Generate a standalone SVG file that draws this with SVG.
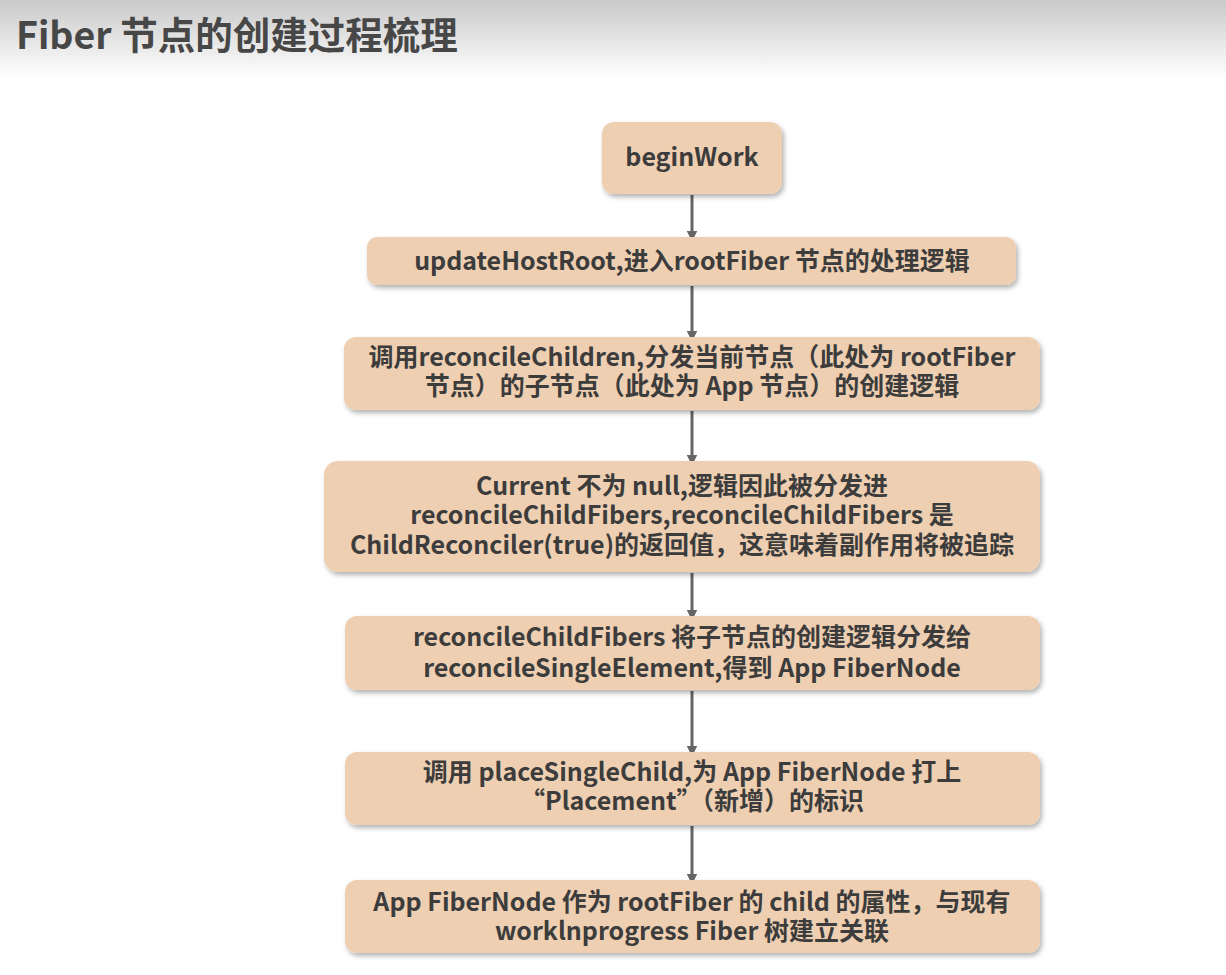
<svg xmlns="http://www.w3.org/2000/svg" width="1226" height="975" viewBox="0 0 1226 975">
<defs>
<linearGradient id="hdr" x1="0" y1="0" x2="0" y2="1">
<stop offset="0" stop-color="#c9c9c9"/>
<stop offset="1" stop-color="#ffffff"/>
</linearGradient>
<filter id="sh" x="-5%" y="-20%" width="110%" height="150%">
<feDropShadow dx="2" dy="3" stdDeviation="2.5" flood-color="#000" flood-opacity="0.3"/>
</filter>
<marker id="ah" markerWidth="11" markerHeight="11" refX="5" refY="5" orient="auto" markerUnits="userSpaceOnUse" viewBox="0 0 10 10">
<path d="M0,0 L10,5 L0,10 z" fill="#666"/>
</marker>
</defs>
<style>
.box{fill:#eecfb2;filter:url(#sh)}
.t{font-family:"Noto Sans CJK SC","Noto Sans",sans-serif;font-weight:bold;fill:#3c3c3c;text-anchor:middle;font-size:25px}
.c{stroke:#666;stroke-width:3;fill:none;marker-end:url(#ah)}
</style>
<rect x="0" y="0" width="1226" height="78" fill="url(#hdr)"/>
<text x="16" y="49" style="font-family:'Noto Sans CJK SC','Noto Sans',sans-serif;font-weight:bold;font-size:37.5px;fill:#474747">Fiber 节点的创建过程梳理</text>

<g id="connectors">
<line class="c" x1="692" y1="195" x2="692" y2="236"/>
<line class="c" x1="692" y1="286" x2="692" y2="336"/>
<line class="c" x1="692" y1="411" x2="692" y2="460"/>
<line class="c" x1="692" y1="573" x2="692" y2="615"/>
<line class="c" x1="692" y1="691" x2="692" y2="751"/>
<line class="c" x1="692" y1="826" x2="692" y2="879"/>
</g>

<g id="n1">
<rect class="box" x="602" y="122" width="180" height="72" rx="12"/>
<text class="t" x="692" y="166">beginWork</text>
</g>
<g id="n2">
<rect class="box" x="367" y="237" width="649" height="48" rx="10"/>
<text class="t" x="692" y="270">updateHostRoot,进入rootFiber 节点的处理逻辑</text>
</g>
<g id="n3">
<rect class="box" x="344" y="337" width="696" height="73" rx="12"/>
<text class="t"><tspan x="692" y="366">调用reconcileChildren,分发当前节点（此处为 rootFiber</tspan><tspan x="692" y="395">节点）的子节点（此处为 App 节点）的创建逻辑</tspan></text>
</g>
<g id="n4">
<rect class="box" x="324" y="461" width="716" height="111" rx="14"/>
<text class="t"><tspan x="682" y="495">Current 不为 null,逻辑因此被分发进</tspan><tspan x="682" y="524">reconcileChildFibers,reconcileChildFibers 是</tspan><tspan x="682" y="554">ChildReconciler(true)的返回值，这意味着副作用将被追踪</tspan></text>
</g>
<g id="n5">
<rect class="box" x="345" y="616" width="695" height="74" rx="12"/>
<text class="t"><tspan x="692" y="646">reconcileChildFibers 将子节点的创建逻辑分发给</tspan><tspan x="692" y="677">reconcileSingleElement,得到 App FiberNode</tspan></text>
</g>
<g id="n6">
<rect class="box" x="345" y="752" width="695" height="73" rx="12"/>
<text class="t"><tspan x="692" y="781">调用 placeSingleChild,为 App FiberNode 打上</tspan><tspan x="692" y="810">“Placement”（新增）的标识</tspan></text>
</g>
<g id="n7">
<rect class="box" x="345" y="880" width="695" height="73" rx="12"/>
<text class="t"><tspan x="692" y="911">App FiberNode 作为 rootFiber 的 child 的属性，与现有</tspan><tspan x="692" y="940">worklnprogress Fiber 树建立关联</tspan></text>
</g>
</svg>
